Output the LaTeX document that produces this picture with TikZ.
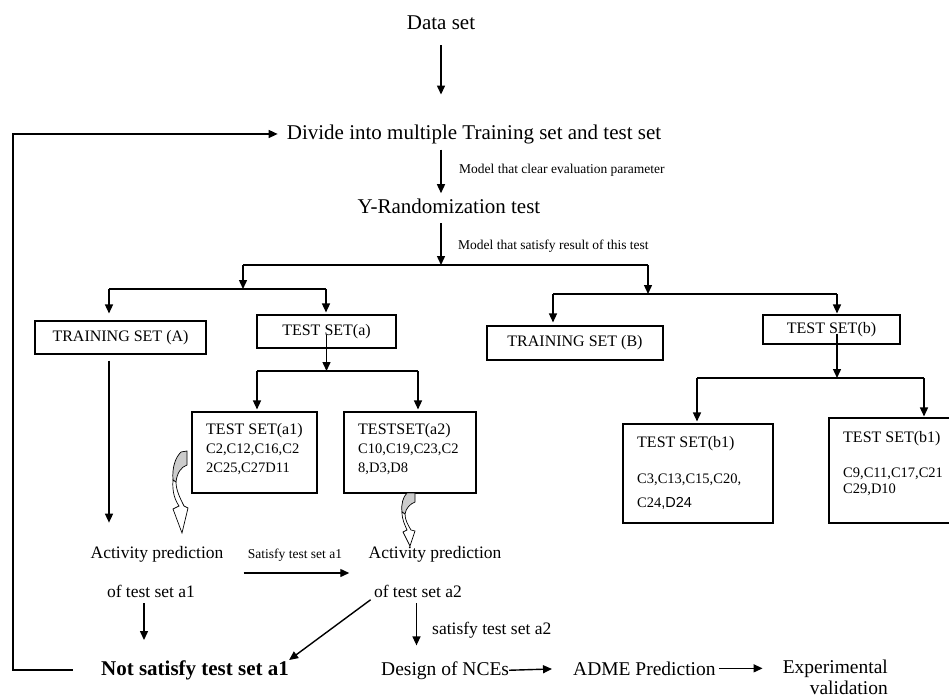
\documentclass[tikz,border=0pt]{standalone}
\usepackage{fontspec}
\setmainfont{Liberation Serif}
\newfontfamily\dsans{Liberation Sans}
\usetikzlibrary{arrows.meta}

\tikzset{
  txt/.style={inner sep=0pt},
  bigtxt/.style={txt, font=\fontsize{21}{25}\selectfont},
  midtxt/.style={txt, font=\fontsize{17.5}{21}\selectfont},
  btmtxt/.style={txt, font=\fontsize{19.5}{21}\selectfont},
  notetxt/.style={txt, font=\fontsize{13.5}{16}\selectfont},
  setbox/.style={draw, line width=1.1pt, font=\fontsize{16}{19}\selectfont},
  cpd/.style={txt, align=left, anchor=north west, font=\fontsize{14.5}{19}\selectfont},
  ln/.style={line width=1.4pt},
  arr/.style={ln, -{Triangle[length=9pt,width=8pt]}},
  backside/.style={fill=gray!40, draw, line width=0.7pt},
  frontside/.style={fill=white, draw, line width=0.7pt}
}

\begin{document}
\begin{tikzpicture}[x=1pt, y=-1pt]
    \useasboundingbox (0,0) rectangle (949,699);
    \node[bigtxt, anchor=base] (data) at (441,29) {Data set};
    \node[bigtxt, anchor=base] (div) at (474,139) {Divide into multiple Training set and test set};
    \node[bigtxt, anchor=base] (yr) at (449,213) {Y-Randomization test};
    \node[notetxt, anchor=base west] (crit1) at (459,173) {Model that clear evaluation parameter};
    \node[notetxt, anchor=base west] (crit2) at (458,249) {Model that satisfy result of this test};
    \coordinate (j0) at (441,265);
    \coordinate (jA) at (243,265);
    \coordinate (jB) at (648,265);
    \coordinate (kA1) at (109,289);
    \coordinate (kA2) at (326,289);
    \coordinate (kB1) at (553,294);
    \coordinate (kB2) at (837,294);
    \coordinate (mA1) at (257,371);
    \coordinate (mA2) at (418,371);
    \coordinate (mB1) at (697,378);
    \coordinate (mB2) at (924,378);
    \coordinate (fb) at (13,669);
    \node[setbox, minimum width=171pt, minimum height=33pt] (trA) at (120.5,337.5) {TRAINING SET (A)};
    \node[setbox, minimum width=139pt, minimum height=33pt] (tsA) at (326.5,331.5) {TEST SET(a)};
    \node[setbox, minimum width=176pt, minimum height=34pt] (trB) at (575,343) {TRAINING SET (B)};
    \node[setbox, minimum width=137pt, minimum height=29pt] (tsB) at (831.5,329.5) {TEST SET(b)};
    \node[setbox, minimum width=125pt, minimum height=81pt] (a1) at (254.5,452.5) {};
    \node[setbox, minimum width=132pt, minimum height=81pt] (a2) at (410,452.5) {};
    \node[setbox, minimum width=150pt, minimum height=99pt] (b1) at (698,473.5) {};
    \node[setbox, minimum width=132pt, minimum height=105pt] (b2) at (895,470.5) {};
    \node[cpd] (a1t) at (206,423) {{\fontsize{16}{19}\selectfont TEST SET(a1)}\\C2,C12,C16,C2\\2C25,C27D11};
    \node[cpd] (a2t) at (358,423) {{\fontsize{16}{19}\selectfont TESTSET(a2)}\\C10,C19,C23,C2\\8,D3,D8};
    \node[cpd, font=\fontsize{14.5}{24}\selectfont] (b1t) at (637,436) {{\fontsize{16}{19}\selectfont TEST SET(b1)}\\[12pt]C3,C13,C15,C20,\\C24{\dsans,D24}};
    \node[cpd, font=\fontsize{14.5}{16}\selectfont] (b2t) at (843,431) {{\fontsize{16}{19}\selectfont TEST SET(b1)}\\[19pt]C9,C11,C17,C21\\C29,D10};
    \node[midtxt, anchor=base] (actA) at (157,558) {Activity prediction};
    \node[midtxt, anchor=base] (ofA) at (151,597) {of test set a1};
    \node[notetxt, anchor=base] (sat1) at (295,558) {Satisfy test set a1};
    \node[midtxt, anchor=base] (actB) at (435,558) {Activity prediction};
    \node[midtxt, anchor=base] (ofB) at (418,597) {of test set a2};
    \node[midtxt, anchor=base west] (sat2) at (432,634) {satisfy test set a2};
    \node[bigtxt, font=\fontsize{21}{25}\selectfont\bfseries, anchor=base] (ns) at (195,675) {Not satisfy test set a1};
    \node[btmtxt, anchor=base west] (nce) at (381,675) {Design of NCEs};
    \node[btmtxt, anchor=base west] (adme) at (573,675) {ADME Prediction};
    \node[btmtxt, align=right, anchor=north east] (expv) at (888,660) {Experimental\\validation};
    \draw[arr, shorten <=16pt, shorten >=29.7pt] (data.south) -- (data.south |- div.north);
    \draw[arr, shorten <=6pt, shorten >=5pt] (data |- div.south) -- (data |- yr.north);
    \draw[arr, shorten <=10pt] (data |- yr.south) -- (j0);
    \draw[ln] (jA) -- (jB);
    \draw[arr] (jA) -- (jA |- kA1);
    \draw[arr] (jB) -- (jB |- kB1);
    \draw[ln] (kA1) -- (kA2);
    \draw[ln] (kB1) -- (kB2);
    \draw[arr, shorten >=7pt] (kA1) -- (kA1 |- trA.north);
    \draw[arr, shorten >=2pt] (kA2) -- (kA2 |- tsA.north);
    \draw[arr, shorten >=3pt] (kB1) -- (kB1 |- trB.north);
    \draw[arr, shorten >=1pt] (kB2) -- (kB2 |- tsB.north);
    \draw[arr] ([yshift=-3.5pt]tsA.center) -- (tsA.center |- mA1);
    \draw[arr] ([shift={(5.5,4)}]tsB.center) -- (kB2 |- mB1);
    \draw[ln] (mA1) -- (mA2);
    \draw[ln] (mB1) -- (mB2);
    \draw[arr, shorten >=2pt] (mA1) -- (mA1 |- a1.north);
    \draw[arr, shorten >=2pt] (mA2) -- (mA2 |- a2.north);
    \draw[arr, shorten >=2pt] (mB1) -- (mB1 |- b1.north);
    \draw[arr, shorten >=1pt] (mB2) -- (mB2 |- b2.north);
    \filldraw[backside] (181,452) -- (187,451) -- (187,465) .. controls (181,467) and (177,473) .. (176,482) -- (173,480) .. controls (172,468) and (175,458) .. (181,452) -- cycle;
    \filldraw[frontside] (173,480) .. controls (172,492) and (175,500) .. (179,506) -- (173,509) -- (182,533) -- (188,508) -- (184,506) .. controls (180,498) and (176,490) .. (176,482) -- cycle;
    \filldraw[backside] (407,493) -- (415,493) -- (415,502) .. controls (410,504) and (406,508) .. (405,514) -- (402,512) .. controls (401,504) and (403,497) .. (407,493) -- cycle;
    \filldraw[frontside] (402,512) .. controls (402,520) and (405,525) .. (407,530) -- (403,532) -- (410,546) -- (415,531) -- (411,530) .. controls (408,525) and (405,520) .. (405,514) -- cycle;
    \draw[arr, shorten <=6pt, shorten >=23pt] (kA1 |- trA.south) -- (kA1 |- actA.north);
    \draw[arr] ([shift={(-4,15)}]sat1.base west) -- ([shift={(7,15)}]sat1.base east);
    \draw[arr, shorten <=6pt, shorten >=20pt] ([xshift=-7pt]ofA.south) -- ([xshift=-7pt]ofA.south |- ns.north);
    \draw[arr, shorten <=4pt] (ofB.south west) -- (ns.north east);
    \draw[arr, shorten <=6pt, shorten >=15.7pt] ([xshift=-1.5pt]ofB.south) -- ([xshift=-1.5pt]ofB.south |- nce.north);
    \draw[arr, shorten >=21pt] (nce.east) -- (adme.west);
    \draw[arr, shorten <=3pt, shorten >=20pt] (adme.east) -- (adme.east -| expv.west);
    \draw[arr, shorten <=28pt, shorten >=9pt] (ns.west) -| (fb |- div.west) -- (div.west);
\end{tikzpicture}
\end{document}
